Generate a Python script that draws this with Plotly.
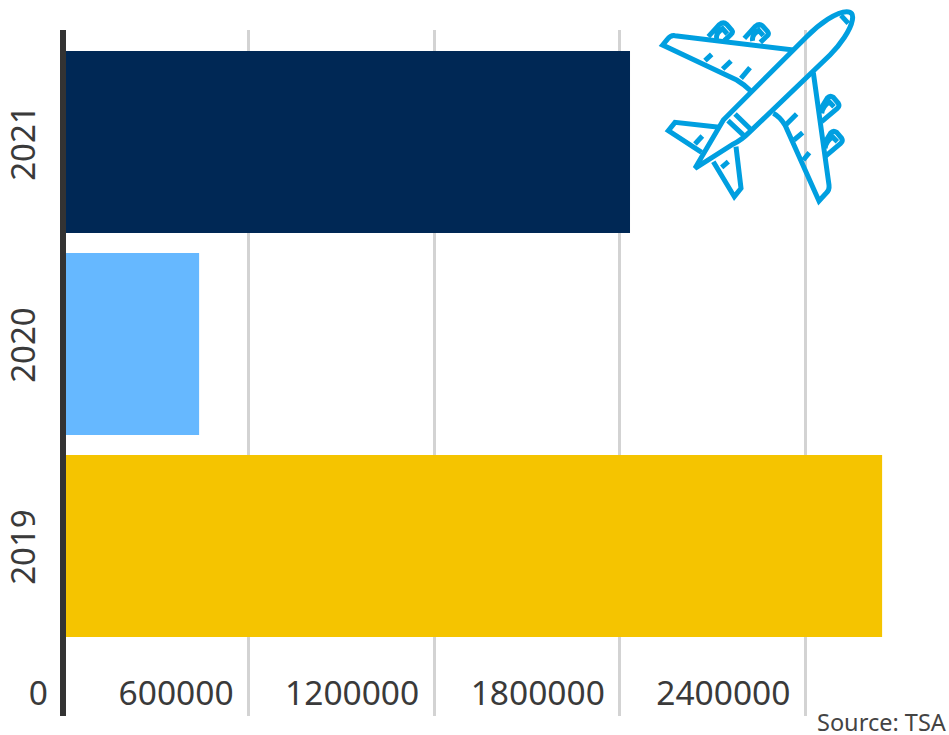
import plotly.graph_objects as go

years = ["2019", "2020", "2021"]
passengers = [2648000, 440000, 1833000]
bar_colors = ["#f5c400", "#66b8ff", "#002855"]
tick_values = [0, 600000, 1200000, 1800000, 2400000]

WIDTH, HEIGHT = 949, 735
LEFT, RIGHT, TOP, BOTTOM = 63, 949, 30, 716
X_MAX = (RIGHT - LEFT) / 185.6 * 600000
BAND = 202
CENTER_2019 = 546

fig = go.Figure(
    go.Bar(
        x=passengers,
        y=[0, 1, 2],
        orientation="h",
        marker=dict(color=bar_colors, line=dict(width=0)),
        width=0.9,
        hoverinfo="skip",
    )
)


def page_point(x, y):
    """Convert icon coordinates (3x units from the icon corner) to paper fractions."""
    px = 640 + x / 3
    py = y / 3
    return f"{(px - LEFT) / (RIGHT - LEFT):.5f},{(BOTTOM - py) / (BOTTOM - TOP):.5f}"


def icon_path(cmds):
    parts = []
    for c in cmds:
        if c == "Z":
            parts.append("Z")
        else:
            op, pts = c[0], c[1:]
            parts.append(op + " ".join(page_point(*p) for p in pts))
    return " ".join(parts)


def engine(dx, dy, rot=False):
    if not rot:
        return [
            ("M", (205 + dx, 110 + dy)), ("L", (238 + dx, 74 + dy)),
            ("Q", (250 + dx, 64 + dy), (260 + dx, 73 + dy)),
            ("L", (275 + dx, 90 + dy)), ("Q", (280 + dx, 97 + dy), (273 + dx, 103 + dy)),
            ("L", (253 + dx, 122 + dy)),
            ("M", (230 + dx, 118 + dy)), ("Q", (226 + dx, 100 + dy), (248 + dx, 86 + dy)),
            ("L", (262 + dx, 102 + dy)),
        ]
    return [
        ("M", (540 + dx, 330 + dy)), ("L", (562 + dx, 294 + dy)),
        ("Q", (570 + dx, 285 + dy), (580 + dx, 292 + dy)),
        ("L", (595 + dx, 310 + dy)), ("Q", (600 + dx, 318 + dy), (592 + dx, 325 + dy)),
        ("L", (545 + dx, 365 + dy)),
        ("M", (545 + dx, 340 + dy)), ("Q", (548 + dx, 318 + dy), (568 + dx, 306 + dy)),
        ("L", (582 + dx, 320 + dy)),
    ]


plane_paths = [
    # fuselage
    [("M", (165, 505)), ("L", (250, 360)), ("L", (500, 110)),
     ("C", (540, 70), (590, 35), (620, 35)), ("Q", (642, 35), (637, 60)),
     ("C", (632, 90), (600, 135), (570, 165)), ("L", (330, 395)),
     ("C", (310, 415), (295, 425), (280, 432)), "Z"],
    # cockpit window and fuselage band
    [("M", (603, 46)), ("L", (625, 70))],
    [("M", (264, 362)), ("L", (315, 410)), ("M", (285, 342)), ("L", (332, 388))],
    # upper wing and ribs
    [("M", (460, 150)), ("L", (105, 107)), ("Q", (92, 105), (82, 118)), ("L", (68, 135)),
     ("L", (290, 240)), ("C", (310, 252), (322, 262), (335, 275))],
    [("M", (195, 182)), ("L", (215, 163)), ("M", (248, 207)), ("L", (273, 183)),
     ("M", (303, 235)), ("L", (330, 203))],
    # lower wing and ribs
    [("M", (520, 218)), ("L", (567, 555)), ("Q", (569, 570), (558, 580)), ("L", (537, 603)),
     ("L", (435, 375)), ("C", (425, 360), (410, 345), (400, 340))],
    [("M", (437, 375)), ("L", (470, 342)), ("M", (462, 420)), ("L", (488, 398)),
     ("M", (490, 480)), ("L", (508, 458))],
    # tailplane
    [("M", (238, 382)), ("L", (105, 367)), ("L", (85, 392)), ("L", (185, 457))],
    [("M", (165, 432)), ("L", (187, 408))],
    [("M", (288, 440)), ("L", (303, 565)), ("L", (283, 590)), ("L", (220, 485))],
    [("M", (245, 502)), ("L", (265, 485))],
    # engines
    engine(0, 0), engine(108, 5), engine(0, 0, True), engine(10, 105, True),
]

for cmds in plane_paths:
    fig.add_shape(
        type="path", xref="paper", yref="paper", layer="above",
        path=icon_path(cmds),
        line=dict(color="#009fe0", width=5),
        fillcolor="rgba(0,0,0,0)",
    )

# Baseline of the value axis, centred on zero and drawn over the bars' edge
fig.add_shape(
    type="line", xref="paper", yref="paper", layer="above",
    x0=0, x1=0, y0=0, y1=1,
    line=dict(color="#333333", width=6),
)

fig.add_annotation(
    text="Source: TSA", xref="paper", yref="paper",
    x=(815 - LEFT) / (RIGHT - LEFT), y=(BOTTOM - 722) / (BOTTOM - TOP),
    xanchor="left", yanchor="middle", showarrow=False,
    font=dict(family="Noto Sans", size=23.5, color="#444444"),
)

fig.update_layout(
    width=WIDTH, height=HEIGHT,
    margin=dict(l=LEFT, r=WIDTH - RIGHT, t=TOP, b=HEIGHT - BOTTOM, autoexpand=False),
    paper_bgcolor="white", plot_bgcolor="white",
    showlegend=False,
    font=dict(family="Noto Sans", color="#3a3a3a"),
    xaxis=dict(
        range=[0, X_MAX], tickmode="array", tickvals=tick_values,
        ticktext=[str(v) for v in tick_values],
        ticklabelposition="inside left", ticklabeloverflow="allow",
        ticklabelshift=-15, ticklabelstandoff=-2,
        tickfont=dict(size=33.5, color="#3a3a3a"),
        showgrid=True, gridcolor="#d3d3d3", gridwidth=3,
        zeroline=False, showline=False, ticks="",
    ),
    yaxis=dict(
        range=[(CENTER_2019 - BOTTOM) / BAND, (CENTER_2019 - TOP) / BAND],
        tickmode="array", tickvals=[0, 1, 2], ticktext=years,
        tickangle=-90, tickfont=dict(size=33, color="#3a3a3a"),
        ticklabelshift=6,
        showgrid=False, zeroline=False, showline=False,
        ticks="outside", ticklen=14, tickcolor="rgba(0,0,0,0)",
    ),
)

fig.write_html("out.html")
